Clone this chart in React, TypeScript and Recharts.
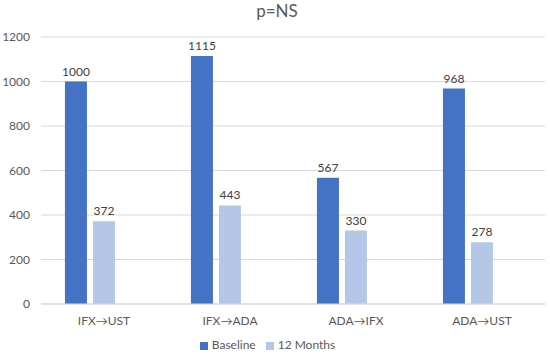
import React from "react";
import {
  BarChart,
  Bar,
  XAxis,
  YAxis,
  CartesianGrid,
  Legend,
  LabelList,
} from "recharts";

const categories = ["IFX→UST", "IFX→ADA", "ADA→IFX", "ADA→UST"];
const baseline = [1000, 1115, 567, 968];
const months12 = [372, 443, 330, 278];
// the original has an empty third series that keeps a slot in each group
const emptySeries = [null, null, null, null];
const yTicks = [0, 200, 400, 600, 800, 1000, 1200];

const data = categories.map((name, i) => ({
  name,
  baseline: baseline[i],
  months12: months12[i],
  empty: emptySeries[i],
}));

const font = "Lato, 'Open Sans', sans-serif";

const App = () => {
  return (
    <div style={{ position: "relative", width: 550, height: 354, fontFamily: font }}>
      <style>{`body{margin:0}`}</style>
      <div
        style={{
          position: "absolute",
          top: 0,
          left: 2,
          width: 550,
          textAlign: "center",
          fontSize: 17,
          color: "#595959",
        }}
      >
        p=NS
      </div>
      <BarChart
        width={550}
        height={354}
        data={data}
        margin={{ top: 37, right: 5, bottom: 2, left: 0 }}
        barCategoryGap="19%"
        barGap={6}
      >
        <CartesianGrid stroke="#d9d9d9" vertical={false} />
        <XAxis
          dataKey="name"
          tickLine={false}
          axisLine={{ stroke: "#d9d9d9" }}
          tick={{ fill: "#595959", fontSize: 12, fontFamily: font }}
          tickSize={0}
          tickMargin={12}
          height={33}
        />
        <YAxis
          domain={[0, 1200]}
          ticks={yTicks}
          axisLine={false}
          tickLine={false}
          tickSize={0}
          tickMargin={11}
          width={41}
          tick={{ fill: "#595959", fontSize: 12, fontFamily: font }}
        />
        <Legend
          verticalAlign="bottom"
          iconType="square"
          iconSize={8}
          itemSorter="dataKey"
          wrapperStyle={{ fontSize: 12, fontFamily: font }}
          formatter={(value) => <span style={{ color: "#595959" }}>{value}</span>}
        />
        <Bar dataKey="baseline" name="Baseline" fill="#4472C4" isAnimationActive={false}>
          <LabelList dataKey="baseline" position="top" offset={6} fill="#404040" fontSize={12} fontFamily={font} />
        </Bar>
        <Bar dataKey="months12" name="12 Months" fill="#B4C7E7" isAnimationActive={false}>
          <LabelList dataKey="months12" position="top" offset={6} fill="#404040" fontSize={12} fontFamily={font} />
        </Bar>
        <Bar dataKey="empty" legendType="none" fill="none" isAnimationActive={false} />
      </BarChart>
    </div>
  );
};

export default App;
